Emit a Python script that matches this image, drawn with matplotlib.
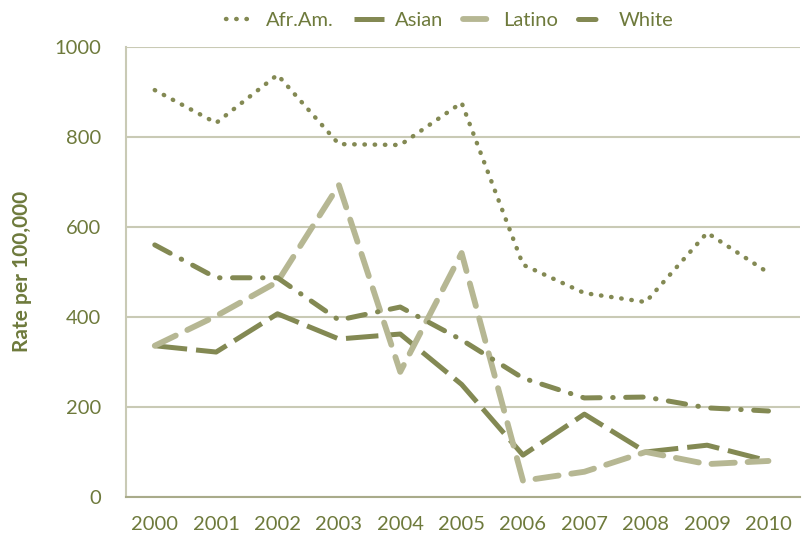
import matplotlib
matplotlib.use("Agg")
import matplotlib.pyplot as plt

YEARS = [2000, 2001, 2002, 2003, 2004, 2005, 2006, 2007, 2008, 2009, 2010]
AFR_AM = [904, 831, 938, 784, 782, 876, 516, 453, 433, 587, 498]
ASIAN = [336, 322, 407, 351, 362, 250, 93, 184, 100, 115, 80]
LATINO = [336, 402, 478, 693, 278, 542, 36, 56, 100, 73, 80]
WHITE = [560, 487, 487, 393, 422, 349, 264, 220, 222, 198, 191]
Y_TICKS = [0, 200, 400, 600, 800, 1000]

DARK = "#838953"
LIGHT = "#b6b793"
TEXT = "#6e7a3c"
GRID = "#c9cab5"

plt.rcParams["font.family"] = ["Lato", "DejaVu Sans"]

fig = plt.figure(figsize=(8.02, 5.39), dpi=100)
ax = fig.add_axes([0.157, 0.078, 0.841, 0.835])

ax.plot(YEARS, AFR_AM, color=DARK, linewidth=3.2, linestyle=(0, (0.1, 2.2)),
        dash_capstyle="round", label="Afr.Am.")
ax.plot(YEARS, ASIAN, color=DARK, linewidth=3.6, linestyle=(0, (6.5, 1.8)),
        solid_capstyle="butt", label="Asian")
ax.plot(YEARS, LATINO, color=LIGHT, linewidth=4.2, linestyle=(0, (4.0, 2.2)),
        dash_capstyle="round", label="Latino")
ax.plot(YEARS, WHITE, color=DARK, linewidth=3.6,
        linestyle=(0, (3.5, 2.5, 0.1, 2.5)), dash_capstyle="round", label="White")

ax.set_xlim(1999.53, 2010.52)
ax.set_ylim(0, 1000)
ax.set_xticks(YEARS)
ax.set_yticks(Y_TICKS)
ax.grid(True, axis="y", color=GRID, linewidth=1.5)
ax.set_axisbelow(True)

for side in ["top", "right"]:
    ax.spines[side].set_visible(False)
ax.spines["left"].set_color(GRID)
ax.spines["left"].set_linewidth(1.5)
ax.spines["bottom"].set_color("#a9ab8a")
ax.spines["bottom"].set_linewidth(1.5)

ax.tick_params(axis="both", length=0, labelsize=14.5, labelcolor=TEXT)
ax.tick_params(axis="y", pad=18)
ax.tick_params(axis="x", pad=14)

ax.set_ylabel("Rate per 100,000", fontsize=15, fontweight="bold", color=TEXT, labelpad=16)

leg = ax.legend(loc="lower center", bbox_to_anchor=(0.48, 1.0), ncol=4, frameon=False,
                fontsize=14.5, handlelength=1.5, columnspacing=1.0, handletextpad=0.5,
                labelcolor=TEXT)

fig.savefig("out.png", dpi=100)
